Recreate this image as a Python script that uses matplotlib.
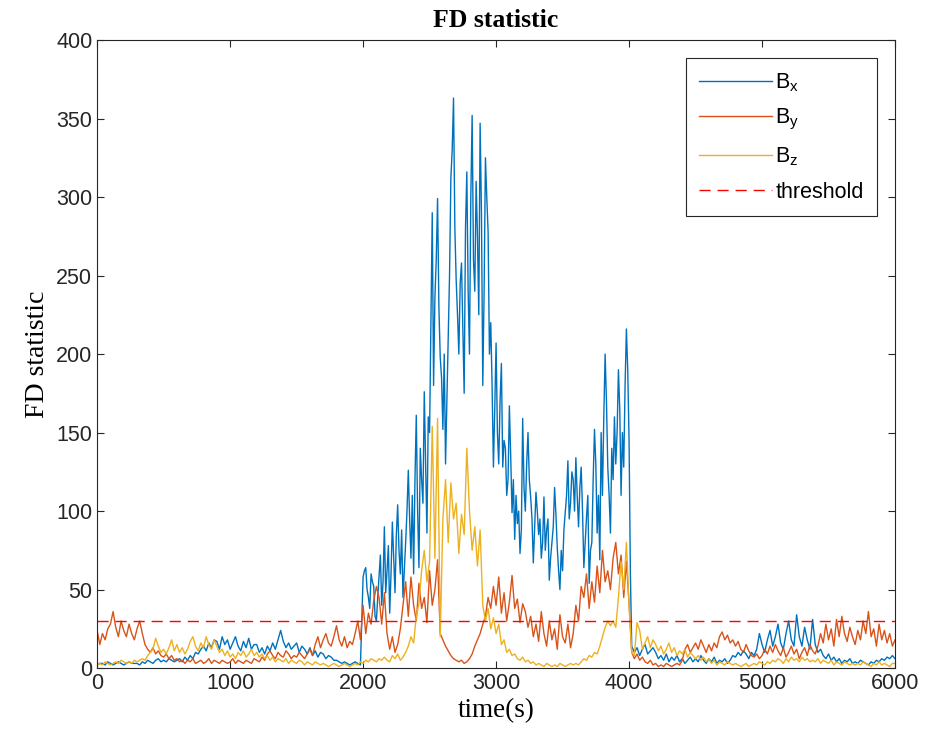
import numpy as np
import matplotlib
matplotlib.use("Agg")
import matplotlib.pyplot as plt

# time axis: one sample every 20 s
t = np.arange(0, 6001, 20)

bx = [2,3,3,2,4,3,2,3,4,3,2,3,4,3,3,
      3,2,4,3,5,4,3,5,6,4,5,4,6,5,4,
      5,6,4,7,5,8,6,10,9,12,14,11,16,13,18,
      17,12,20,15,18,12,16,20,14,11,17,13,19,12,15,
      15,10,13,9,14,11,16,12,18,24,17,13,16,12,14,
      16,10,14,12,9,13,8,11,7,10,9,6,8,7,5,
      5,4,3,4,3,2,3,4,3,2,58,64,45,60,52,
      30,58,40,90,62,35,93,48,104,60,45,80,126,70,60,
      161,64,120,176,86,150,290,236,299,198,152,130,208,312,363,
      247,200,258,175,316,200,352,240,275,347,180,325,278,220,128,
      207,130,194,145,110,167,99,82,92,73,159,100,150,109,67,
      112,85,70,109,88,56,80,115,77,50,62,99,132,105,120,
      134,90,128,64,96,54,80,152,86,69,110,200,128,86,120,
      130,190,110,128,216,145,14,10,13,8,12,15,9,11,13,
      10,6,8,5,9,4,7,5,8,4,6,3,5,7,4,
      6,4,8,5,3,6,4,7,3,5,4,6,3,5,8,
      7,10,8,11,9,6,10,8,12,22,15,10,18,24,14,
      20,28,16,12,22,30,18,14,34,20,14,26,18,12,31,
      15,10,12,8,6,9,5,7,4,6,3,5,4,6,3,
      4,3,5,4,3,2,4,3,5,4,6,5,7,6,8,
      6]

# extra Bx samples inside the disturbance (2010 ... 4010 s)
t_burst = np.arange(2010, 4011, 20)
bx_burst = [62,50,38,55,33,
            45,72,55,48,78,60,70,85,75,88,62,100,95,110,120,
            100,140,105,130,160,218,180,260,230,185,200,170,250,330,280,
            225,245,215,280,240,300,260,310,225,290,240,300,200,180,165,
            150,170,128,140,120,135,120,110,100,88,115,130,120,95,90,
            100,95,80,75,95,70,90,98,62,75,88,110,95,125,100,
            110,115,100,80,110,75,120,130,110,150,160,170,110,140,160,
            150,165,150,180,190,60]

by = [24,15,22,18,25,28,36,26,20,30,24,20,28,22,18,
      25,30,22,15,12,10,13,9,11,8,7,9,6,8,5,
      6,4,5,3,5,4,6,3,4,5,3,4,6,3,5,
      4,3,5,4,3,4,6,3,5,4,3,5,4,3,6,
      5,4,7,5,9,11,8,6,10,8,7,11,9,6,8,
      7,10,8,6,9,12,8,15,20,13,18,22,16,14,20,
      27,18,14,20,13,17,15,22,30,18,40,22,35,28,43,
      52,45,28,48,22,12,20,10,15,25,40,55,33,58,40,
      30,54,38,45,29,62,40,50,69,22,18,14,11,8,6,
      5,4,5,3,4,6,9,14,18,22,28,33,45,38,52,
      40,58,35,48,30,42,59,38,44,29,41,36,26,33,20,
      28,17,36,22,14,30,18,25,12,34,20,16,28,13,22,
      40,30,52,45,60,38,55,42,65,48,75,55,62,50,70,
      80,60,72,45,68,41,10,6,9,5,7,4,3,5,2,
      3,1,2,1,3,2,1,2,3,2,5,12,15,10,13,
      16,12,18,14,10,15,11,16,13,20,23,18,21,16,18,
      14,17,12,10,15,11,8,7,9,6,8,12,9,14,10,
      15,11,8,13,7,10,14,9,12,6,10,13,8,15,11,
      9,14,22,16,28,18,25,14,31,20,33,22,17,26,20,
      15,24,18,30,22,36,20,25,14,28,18,24,16,22,14,
      18]

bz = [2,3,2,4,3,2,3,4,3,5,4,3,4,3,5,
      4,5,6,5,8,10,12,19,14,10,12,9,13,18,11,
      15,10,13,9,12,17,20,14,11,16,13,20,15,12,18,
      14,10,12,8,11,7,9,6,10,8,11,7,9,12,8,
      10,7,9,6,8,5,7,4,6,5,4,6,3,5,4,
      3,5,4,2,4,3,2,4,3,2,3,2,1,2,3,
      2,1,2,3,2,1,2,3,2,4,3,5,4,6,5,
      4,6,5,7,5,4,8,6,9,5,7,10,14,20,16,
      33,41,62,75,55,68,154,70,159,20,95,120,80,118,95,
      105,73,98,85,140,100,75,90,65,88,40,30,38,25,32,
      22,28,15,18,10,12,8,9,6,5,7,4,5,3,4,
      2,3,2,1,3,2,1,2,1,3,2,1,2,3,2,
      3,2,4,6,5,8,7,10,9,14,20,26,30,27,30,
      26,45,68,50,80,40,10,8,29,24,12,16,20,13,18,
      15,11,14,9,12,16,10,13,8,11,9,12,7,10,8,
      6,8,5,7,4,6,3,5,2,4,3,2,4,3,2,
      3,2,1,2,3,1,2,3,2,4,3,2,4,3,5,
      4,6,5,3,6,4,7,5,6,4,7,5,6,4,5,
      4,6,3,5,4,3,5,2,4,3,2,4,3,2,3,
      2,3,2,4,3,2,1,3,2,4,2,3,2,1,3,
      3]

threshold = 30
labels = [r"$\mathregular{B_x}$", r"$\mathregular{B_y}$", r"$\mathregular{B_z}$", "threshold"]

# merge the two Bx sample sets in time order
tx = np.concatenate([t, t_burst])
order = np.argsort(tx, kind="stable")
tx = tx[order]
bx_all = np.concatenate([bx, bx_burst])[order]

plt.rcParams["font.family"] = ["Liberation Sans", "DejaVu Sans"]
plt.rcParams["mathtext.fontset"] = "custom"
plt.rcParams["mathtext.rm"] = "Liberation Sans"

fig = plt.figure(figsize=(9.25, 7.49), dpi=100)
ax = fig.add_axes([0.105, 0.108, 0.8626, 0.8386])

ax.plot(tx, bx_all, color="#0072BD", lw=1.0, label=labels[0])
ax.plot(t, by, color="#D95319", lw=1.0, label=labels[1])
ax.plot(t, bz, color="#EDB120", lw=1.0, label=labels[2])
ax.plot([0, 6000], [threshold, threshold], "r--", lw=1.0, dashes=(8, 5), label=labels[3])

ax.set_xlim(0, 6000)
ax.set_ylim(0, 400)
ax.set_xticks(np.arange(0, 6001, 1000))
ax.set_yticks(np.arange(0, 401, 50))
ax.tick_params(direction="in", top=True, right=True, labelsize=15.5,
               colors="#262626", length=5)
for s in ax.spines.values():
    s.set_color("#262626")
    s.set_linewidth(0.8)

serif = ["Liberation Serif", "DejaVu Serif"]
ax.set_title("FD statistic", fontsize=18.5, fontweight="bold", family=serif, pad=9)
ax.set_xlabel("time(s)", fontsize=19.5, family=serif, labelpad=3)
ax.set_ylabel("FD statistic", fontsize=20, family=serif, labelpad=4)

leg = ax.legend(loc="upper right", bbox_to_anchor=(0.9774, 0.9713), borderaxespad=0,
                fontsize=15.5, handlelength=3.4, handletextpad=0.15, fancybox=False,
                framealpha=1, edgecolor="#262626", labelspacing=0.62, borderpad=0.62)
leg.get_frame().set_linewidth(0.8)

fig.savefig("out.png", dpi=100)
